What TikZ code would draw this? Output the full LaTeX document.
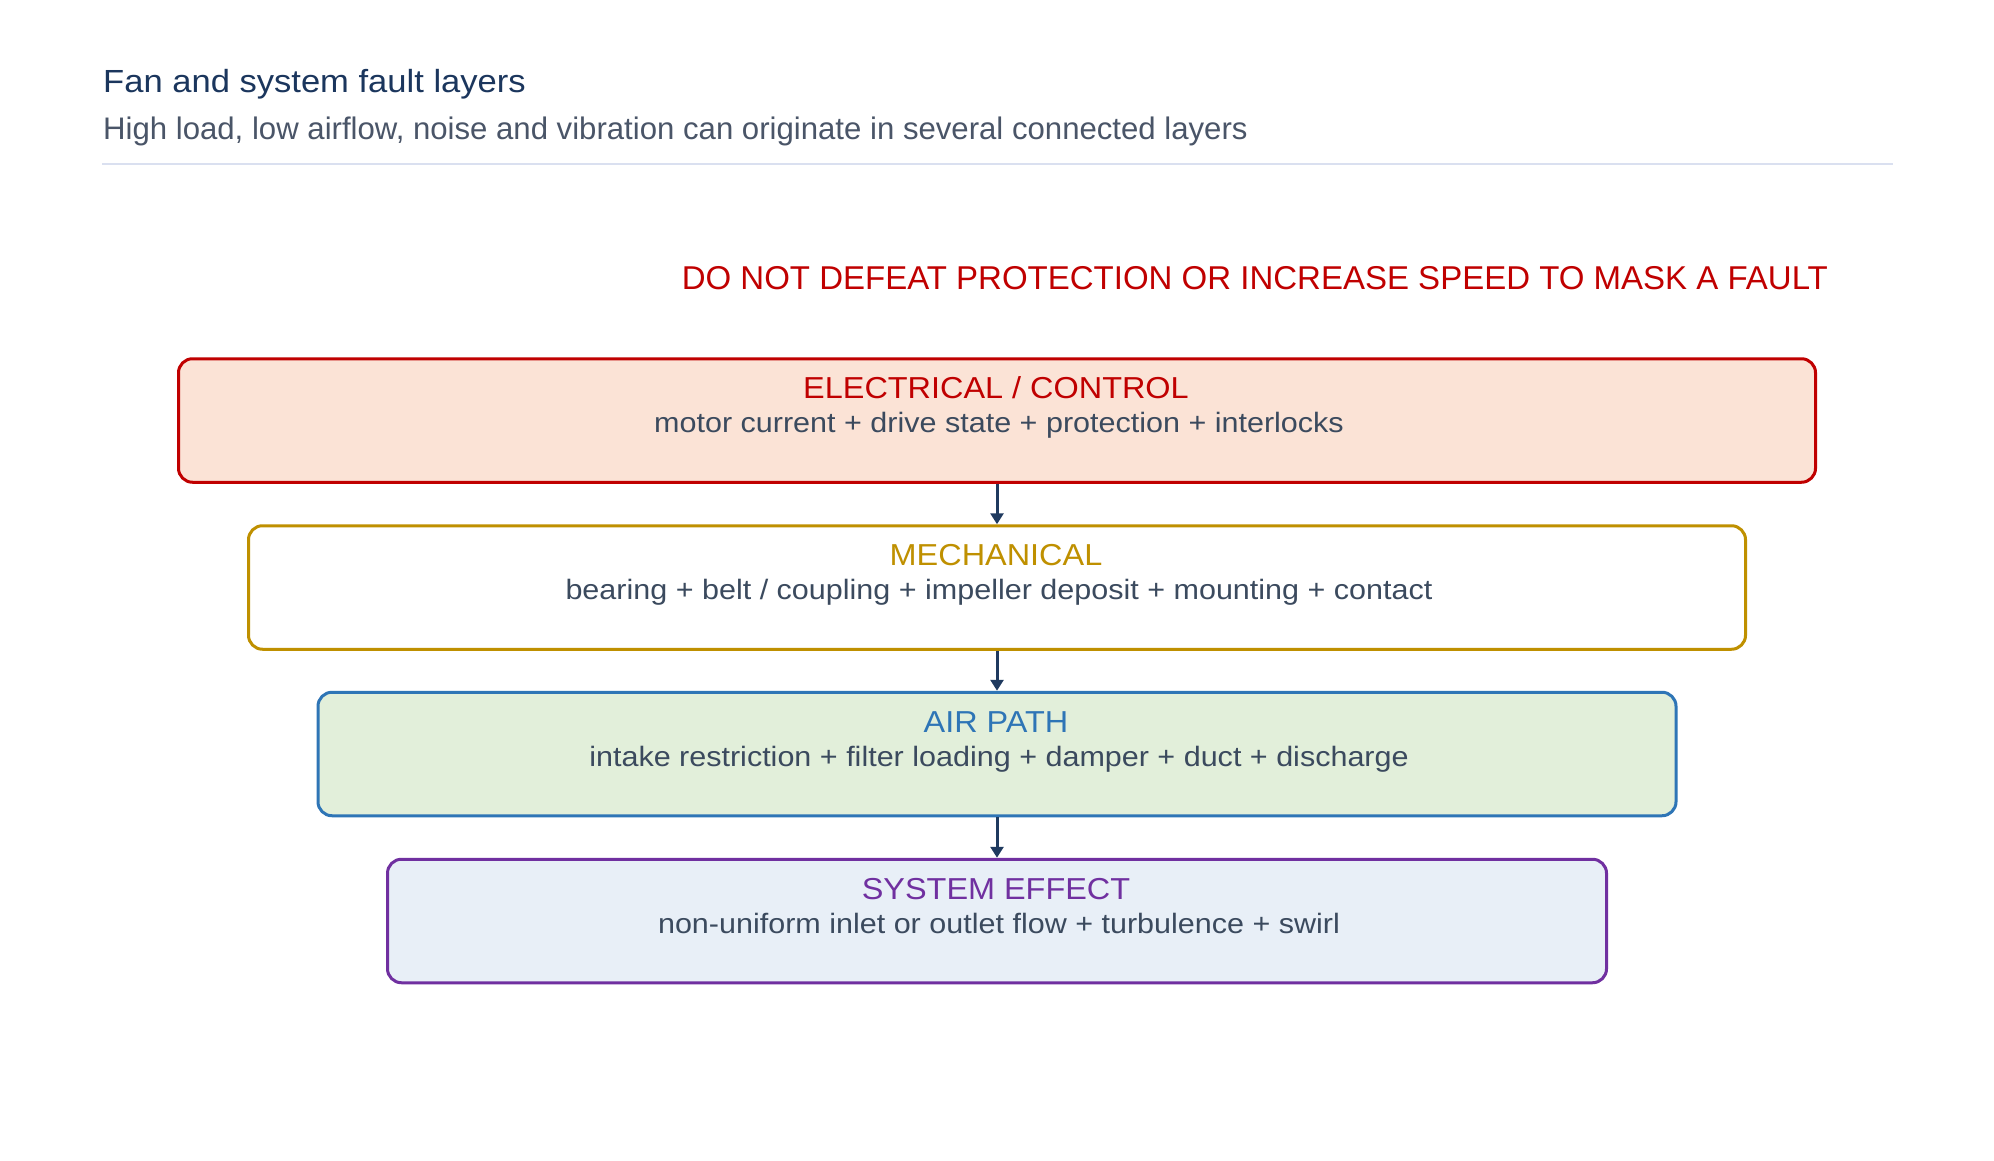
\documentclass[tikz,border=0pt]{standalone}
\usepackage{fontspec}
\setmainfont{Liberation Sans}
\newfontfamily\titlefont[FakeStretch=1.08]{Liberation Sans}
\newfontfamily\boxtitlefont[FakeStretch=1.07]{Liberation Sans}
\newfontfamily\bodyfont[FakeStretch=1.09]{Liberation Sans}
\usetikzlibrary{arrows.meta}
\definecolor{cred}{HTML}{C00000}
\definecolor{fred}{HTML}{FBE3D6}
\definecolor{cgold}{HTML}{BF9000}
\definecolor{cblue}{HTML}{2E75B6}
\definecolor{fgreen}{HTML}{E2EFDA}
\definecolor{cpurple}{HTML}{7030A0}
\definecolor{fblue}{HTML}{E8EFF7}
\definecolor{bodytext}{HTML}{3B4A5E}
\definecolor{navy}{HTML}{1B365D}
\definecolor{subtext}{HTML}{4A5568}
\definecolor{rulecol}{HTML}{DAE0F0}
\definecolor{arrcol}{HTML}{1F3A5F}
\begin{document}
\begin{tikzpicture}[x=1pt,y=-1pt,
  layerbox/.style={draw, line width=3pt, rounded corners=14pt, minimum height=123.5pt, inner sep=0pt},
  layertitle/.style={anchor=base, inner sep=0pt, font=\boxtitlefont\fontsize{30.3}{36}\selectfont},
  layerbody/.style={anchor=base, inner sep=0pt, text=bodytext, font=\bodyfont\fontsize{28}{34}\selectfont},
  flow/.style={draw=arrcol, line width=3pt, -{Triangle[width=13pt,length=11pt]}}
]
\useasboundingbox (0,0) rectangle (1994,1161);
\fill[white] (0,0) rectangle (1994,1161);
% header
\node[anchor=base west, inner sep=0pt, text=navy, font=\titlefont\fontsize{32}{38}\selectfont] (title) at (103,92.3) {Fan and system fault layers};
\node[anchor=base west, inner sep=0pt, text=subtext, font=\fontsize{31.15}{37}\selectfont] (subtitle) at (103,139.3) {High load, low airflow, noise and vibration can originate in several connected layers};
\coordinate (ruleL) at (102,164);
\coordinate (ruleR) at (1893,164);
\draw[rulecol, line width=2.5pt] (ruleL) -- (ruleR);
\node[anchor=base east, inner sep=0pt, text=cred, font=\fontsize{33}{39}\selectfont] (warn) at (1828,289) {DO NOT DEFEAT PROTECTION OR INCREASE SPEED TO MASK A FAULT};
% boxes
\node[layerbox, draw=cred, fill=fred, minimum width=1637pt] (b1) at (997,420.5) {};
\node[layerbox, draw=cgold, fill=white, minimum width=1497pt] (b2) at (997,587.5) {};
\node[layerbox, draw=cblue, fill=fgreen, minimum width=1358pt] (b3) at (997,754) {};
\node[layerbox, draw=cpurple, fill=fblue, minimum width=1219pt] (b4) at (997,921) {};
% texts
\node[layertitle, text=cred] (t1) at ([yshift=-41.5pt,xshift=-1pt]b1.north) {ELECTRICAL / CONTROL};
\node[layerbody] (s1) at ([yshift=-75.5pt,xshift=2pt]b1.north) {motor current + drive state + protection + interlocks};
\node[layertitle, text=cgold] (t2) at ([yshift=-41.5pt,xshift=-1pt]b2.north) {MECHANICAL};
\node[layerbody] (s2) at ([yshift=-75.5pt,xshift=2pt]b2.north) {bearing + belt / coupling + impeller deposit + mounting + contact};
\node[layertitle, text=cblue] (t3) at ([yshift=-41.5pt,xshift=-1pt]b3.north) {AIR PATH};
\node[layerbody] (s3) at ([yshift=-75.5pt,xshift=2pt]b3.north) {intake restriction + filter loading + damper + duct + discharge};
\node[layertitle, text=cpurple] (t4) at ([yshift=-41.5pt,xshift=-1pt]b4.north) {SYSTEM EFFECT};
\node[layerbody] (s4) at ([yshift=-75.5pt,xshift=2pt]b4.north) {non-uniform inlet or outlet flow + turbulence + swirl};
% arrows
\draw[flow] (b1.south) -- (b2.north);
\draw[flow] (b2.south) -- (b3.north);
\draw[flow] (b3.south) -- (b4.north);
\end{tikzpicture}
\end{document}
